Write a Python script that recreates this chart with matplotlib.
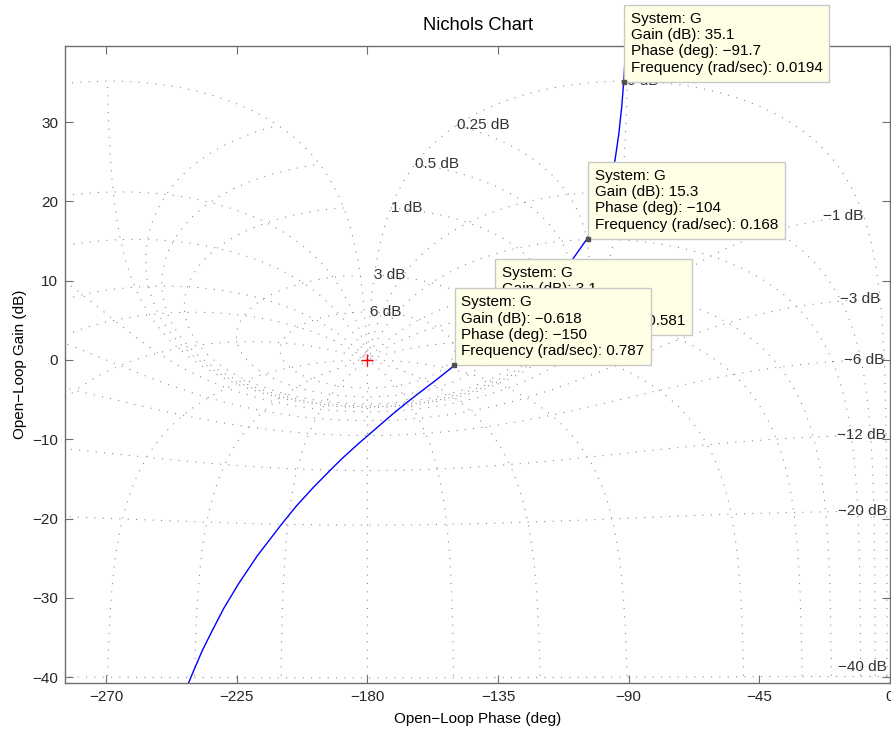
import numpy as np
import matplotlib
matplotlib.use('Agg')
import matplotlib.pyplot as plt

plt.rcParams['font.family'] = ['Liberation Sans', 'DejaVu Sans']
plt.rcParams['font.size'] = 11
plt.rcParams['axes.unicode_minus'] = True

# open-loop response of G
g_phase = [-91.0, -91.7, -92.4, -93.4, -94.7, -96.9, -100.3, -104.3, -111.2,
           -119.2, -126.9, -136.4, -144.3, -149.7, -156.2, -161.6, -166.5,
           -171.2, -177.5, -183.2, -188.3, -191.4, -198.4, -204.4, -209.5,
           -217.9, -224.3, -229.4, -233.5, -236.9, -239.7, -242.1]
g_gain = [39.5, 35.1, 31.9, 28.5, 25.2, 21.9, 18.3, 15.3, 11.7,
          8.5, 5.9, 3.1, 0.9, -0.6, -2.5, -4.0, -5.4,
          -6.8, -8.8, -10.6, -12.3, -13.4, -16.0, -18.4, -20.7,
          -24.7, -28.2, -31.3, -34.2, -36.7, -39.1, -41.2]

# data tips
tip_phase = [-91.7, -104, -136, -150]
tip_gain = [35.1, 15.3, 3.1, -0.618]
tip_phase_txt = ['-91.7', '-104', '-136', '-150']
tip_gain_txt = ['35.1', '15.3', '3.1', '-0.618']
tip_freq_txt = ['0.0194', '0.168', '0.581', '0.787']

# nichols grid: closed-loop gains (dB) and closed-loop phases (deg)
grid_mag_db = [6, 3, 1, 0.5, 0.25, 0, -1, -3, -6, -12, -20, -40]
grid_phase = [-1, -5, -10, -20, -30, -50, -90, -120, -150, -180]

x_ticks = [-270, -225, -180, -135, -90, -45, 0]
y_ticks = [-40, -30, -20, -10, 0, 10, 20, 30]
xlim = (-284, 0)
ylim = (-40.7, 39.55)

grid_kw = dict(color='#808080', lw=0.75, dashes=(1, 7), zorder=1)


def m_contour(mdb):
    M = 10 ** (mdb / 20.0)
    th = np.deg2rad(np.linspace(-1, -359, 7001))
    T = M * np.exp(1j * th)
    L = T / (1 - T)
    ph = np.rad2deg(np.unwrap(np.angle(L)))
    mid = len(ph) // 2
    ph = ph - 360 * np.round((ph[mid] + 180) / 360)
    return ph, 20 * np.log10(np.abs(L))


def n_contour(th_deg):
    M = np.logspace(-3, 4, 30000)
    T = M * np.exp(1j * np.deg2rad(th_deg))
    L = T / (1 - T)
    ph = np.rad2deg(np.unwrap(np.angle(L)))
    ph = ph - 360 * np.round((ph[0] - th_deg) / 360)
    return ph, 20 * np.log10(np.abs(L))


def minus(s):
    return s.replace('-', '\u2212')


fig = plt.figure(figsize=(8.91, 7.33), dpi=100)
ax = fig.add_axes([0.0733, 0.0686, 0.9256, 0.8682])

# constant closed-loop gain lines
for mdb in grid_mag_db:
    ph, gn = m_contour(mdb)
    ax.plot(ph, gn, **grid_kw)
    y0 = max(gn[0], ylim[0] + 2)
    ha = 'left' if mdb >= 0 else 'right'
    ax.text(ph[0], y0, minus('%g dB' % mdb), ha=ha, va='center',
            color='#333333', zorder=2)

# constant closed-loop phase lines (and mirror about -180)
phases = list(grid_phase) + [-360 - p for p in grid_phase if p != -180]
for p in phases:
    ph, gn = n_contour(p)
    ax.plot(ph, gn, **grid_kw)

ax.plot(-180, 0, '+', color='red', ms=9, mew=1, zorder=3)

ax.plot(g_phase, g_gain, color='blue', lw=1, zorder=4)

for i in range(len(tip_phase)):
    txt = ('System: G\nGain (dB): %s\nPhase (deg): %s\nFrequency (rad/sec): %s'
           % (minus(tip_gain_txt[i]), minus(tip_phase_txt[i]), tip_freq_txt[i]))
    ax.annotate(txt, xy=(tip_phase[i], tip_gain[i]), xytext=(5, 5),
                textcoords='offset points', ha='left', va='bottom',
                linespacing=1.2, color='black', zorder=10 + i,
                annotation_clip=False,
                bbox=dict(boxstyle='square,pad=0.45', fc='#ffffe6',
                          ec='#c8c8c8', lw=1))
    ax.plot(tip_phase[i], tip_gain[i], 's', ms=3, color='#505050',
            zorder=10.5 + i, clip_on=False)

ax.set_xlim(xlim)
ax.set_ylim(ylim)
ax.set_xticks(x_ticks)
ax.set_yticks(y_ticks)
ax.tick_params(direction='in', top=True, right=True, length=6, width=0.8,
               color='#6e6e6e', labelcolor='#262626', pad=5)
for s in ax.spines.values():
    s.set_color('#6e6e6e')
    s.set_linewidth(1)

ax.set_title('Nichols Chart', pad=12)
ax.set_xlabel('Open\u2212Loop Phase (deg)', labelpad=6)
ax.set_ylabel('Open\u2212Loop Gain (dB)', labelpad=4)

fig.savefig('out.png', dpi=100)
